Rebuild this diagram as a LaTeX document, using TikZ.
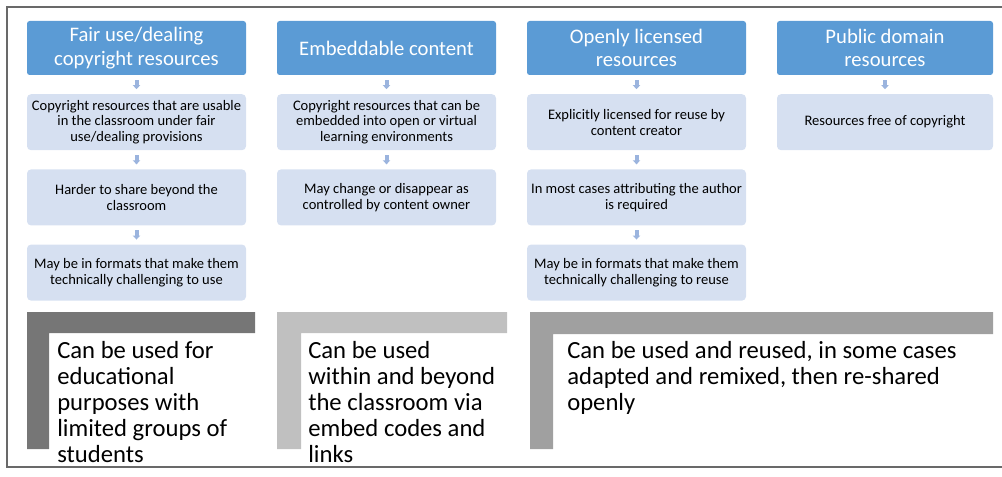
\documentclass[tikz,border=0pt]{standalone}
\usepackage{fontspec}
\setmainfont{Carlito}
\usetikzlibrary{positioning}
\usetikzlibrary{arrows.meta}
\definecolor{hdrblue}{RGB}{91,155,213}
\definecolor{boxblue}{RGB}{214,224,241}
\definecolor{arrowblue}{RGB}{155,180,222}
\definecolor{framegray}{RGB}{105,105,105}
\definecolor{darkbar}{RGB}{118,118,118}
\definecolor{lightbar}{RGB}{192,192,192}
\definecolor{midbar}{RGB}{160,160,160}
\tikzset{
	headbox/.style={rectangle, rounded corners=2pt, fill=hdrblue, text=white, minimum width=164.25pt, minimum height=40.5pt, inner sep=0pt, align=center, font=\fontsize{15.5}{17.5}\selectfont},
	infobox/.style={rectangle, rounded corners=3pt, fill=boxblue, minimum width=164.25pt, minimum height=42pt, inner sep=0pt, align=center, font=\fontsize{10.9}{11.9}\selectfont},
	flowarrow/.style={draw=arrowblue, line width=3pt, -{Triangle[width=5.5pt,length=3pt]}, shorten <=3.6pt, shorten >=3.6pt},
	bigtext/.style={anchor=north west, inner sep=0pt, align=left, font=\fontsize{18.5}{19.5}\selectfont}
}

\begin{document}
\begin{tikzpicture}[x=0.75pt,y=-0.75pt]
			\useasboundingbox (0,0) rectangle (1002,477);

			% Frame
			\draw[framegray, line width=1.1pt] (1002,7) -- (7,7) -- (7,467) -- (1002,467);

			% Fair use column
			\node[headbox] (fairhead) at (136.5,48) {Fair use/dealing\\copyright resources};
			\node[infobox, below=14pt of fairhead] (fairA) {Copyright resources that are usable\\in the classroom under fair\\use/dealing provisions};
			\node[infobox, below=14pt of fairA] (fairB) {Harder to share beyond the\\classroom};
			\node[infobox, below=14pt of fairB] (fairC) {May be in formats that make them\\technically challenging to use};
			\draw[flowarrow] (fairhead) -- (fairA);
			\draw[flowarrow] (fairA) -- (fairB);
			\draw[flowarrow] (fairB) -- (fairC);

			% Embeddable column
			\node[headbox] (embedhead) at (386.5,48) {Embeddable content};
			\node[infobox, below=14pt of embedhead] (embedA) {Copyright resources that can be\\embedded into open or virtual\\learning environments};
			\node[infobox, below=14pt of embedA] (embedB) {May change or disappear as\\controlled by content owner};
			\draw[flowarrow] (embedhead) -- (embedA);
			\draw[flowarrow] (embedA) -- (embedB);

			% Openly licensed column
			\node[headbox] (openhead) at (636.5,48) {Openly licensed\\resources};
			\node[infobox, below=14pt of openhead] (openA) {Explicitly licensed for reuse by\\content creator};
			\node[infobox, below=14pt of openA] (openB) {In most cases attributing the author\\is required};
			\node[infobox, below=14pt of openB] (openC) {May be in formats that make them\\technically challenging to reuse};
			\draw[flowarrow] (openhead) -- (openA);
			\draw[flowarrow] (openA) -- (openB);
			\draw[flowarrow] (openB) -- (openC);

			% Public domain column
			\node[headbox, minimum width=162pt] (publichead) at (885,48) {Public domain\\resources};
			\node[infobox, minimum width=162pt, below=14pt of publichead] (publicA) {Resources free of copyright};
			\draw[flowarrow] (publichead) -- (publicA);

			% Bottom brackets
			\fill[darkbar] (27,312) -- (255,312) -- (255,333) -- (49,333) -- (49,449) -- (27,449) -- cycle;
			\fill[lightbar] (277,312) -- (507,312) -- (507,333) -- (301,333) -- (301,449) -- (277,449) -- cycle;
			\fill[midbar] (530,312) -- (993,312) -- (993,334) -- (553,334) -- (553,449) -- (530,449) -- cycle;

			\node[bigtext] (fairnote) at (57,341) {Can be used for\\educational\\purposes with\\limited groups of\\students};
			\node[bigtext] (embednote) at (308,341) {Can be used\\within and beyond\\the classroom via\\embed codes and\\links};
			\node[bigtext] (opennote) at (567,341) {Can be used and reused, in some cases\\adapted and remixed, then re-shared\\openly};
		\end{tikzpicture}
\end{document}
